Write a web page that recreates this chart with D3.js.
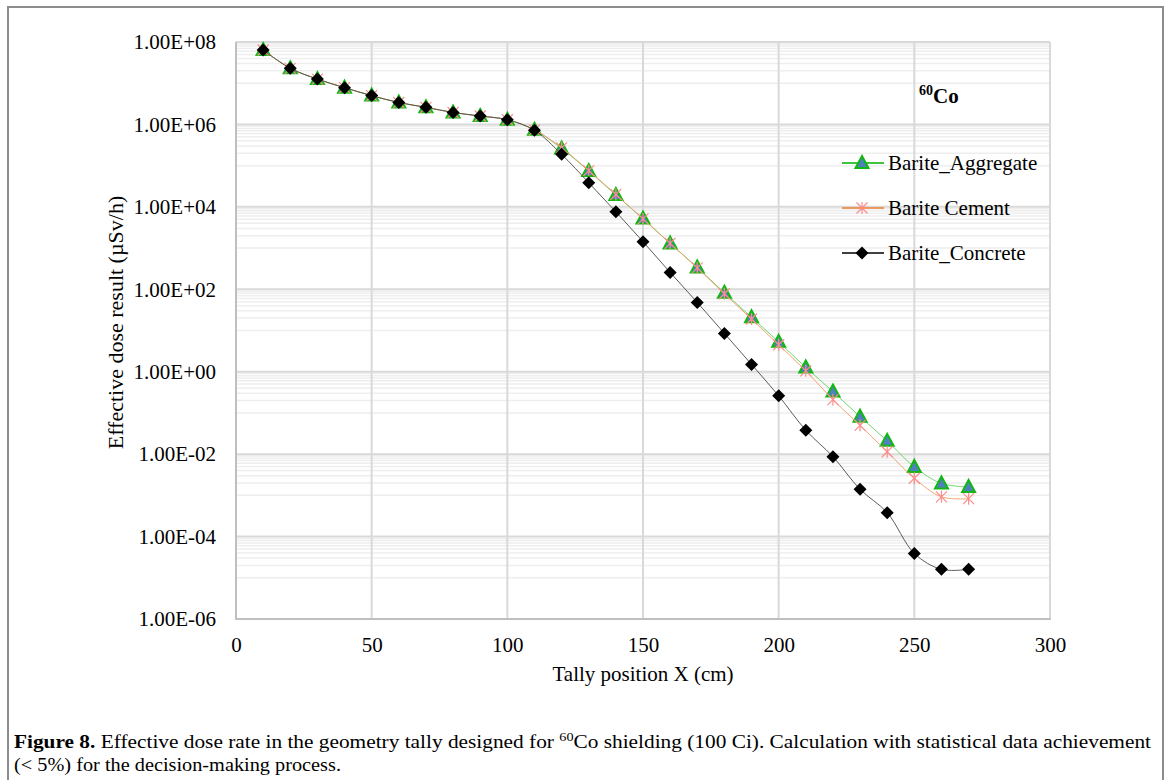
<!DOCTYPE html>
<html>
<head>
<meta charset="utf-8">
<script src="https://cdn.jsdelivr.net/npm/d3@7"></script>
<style>
  body { margin: 0; background: #fff; }
  svg { display: block; font-family: "Liberation Serif", "Times New Roman", serif; }
</style>
</head>
<body>
<div id="chart"></div>
<script>
// tally positions (cm)
const positions = [10, 20, 30, 40, 50, 60, 70, 80, 90, 100, 110, 120, 130, 140, 150, 160, 170, 180, 190, 200, 210, 220, 230, 240, 250, 260, 270];

// effective dose (µSv/h)
const aggregate = [6.4e7, 2.3e7, 1.26e7, 7.8e6, 5.0e6, 3.4e6, 2.6e6, 1.95e6, 1.6e6, 1.3e6, 7.4e5, 2.6e5, 7.4e4, 1.94e4, 5.2e3, 1.3e3, 340, 82, 21, 5.3, 1.27, 0.33, 0.081, 0.021, 4.9e-3, 1.95e-3, 1.6e-3];
const cement = [6.4e7, 2.3e7, 1.26e7, 7.8e6, 5.0e6, 3.4e6, 2.6e6, 1.95e6, 1.6e6, 1.3e6, 7.4e5, 2.7e5, 7.6e4, 2.0e4, 5.1e3, 1.3e3, 330, 78, 19, 4.5, 1.05, 0.21, 0.05, 0.0114, 2.6e-3, 9.2e-4, 8.3e-4];
const concrete = [6.4e7, 2.3e7, 1.26e7, 7.8e6, 5.0e6, 3.4e6, 2.6e6, 1.95e6, 1.6e6, 1.3e6, 7.2e5, 1.88e5, 3.85e4, 7.6e3, 1.43e3, 257, 48, 8.5, 1.5, 0.26, 0.038, 0.0087, 1.4e-3, 3.8e-4, 3.9e-5, 1.6e-5, 1.6e-5];

const seriesNames = ["Barite_Aggregate", "Barite Cement", "Barite_Concrete"];
const xTicks = [0, 50, 100, 150, 200, 250, 300];
const yTicks = [1e-6, 1e-4, 1e-2, 1, 1e2, 1e4, 1e6, 1e8];

// adjust: page size
const width = 1170;
const height = 780;

// adjust: plot area
const area = { left: 236, right: 1050, top: 42, bottom: 619 };

const svg = d3.select("#chart")
  .append("svg")
  .attr("width", width)
  .attr("height", height);

// outer frame
svg.append("rect")
  .attr("x", 8).attr("y", 7)
  .attr("width", 1155).attr("height", 790)
  .attr("fill", "none")
  .attr("stroke", "#8c8c8c")
  .attr("stroke-width", 2);

const x = d3.scaleLinear().domain([0, 300]).range([area.left, area.right]);
const y = d3.scaleLog().domain([1e-6, 1e8]).range([area.bottom, area.top]);

// minor gridlines: 1..9 x 10^odd (Excel log base 100)
const minor = [];
for (let e = -5; e <= 7; e += 2) {
  for (let m = 1; m <= 9; m++) minor.push(m * Math.pow(10, e));
}

const grid = svg.append("g");
grid.selectAll("line.minor")
  .data(minor)
  .join("line")
  .attr("x1", area.left).attr("x2", area.right)
  .attr("y1", d => y(d)).attr("y2", d => y(d))
  .attr("stroke", "#eeeeee")
  .attr("stroke-width", 1.5);

grid.selectAll("line.hmajor")
  .data(yTicks)
  .join("line")
  .attr("x1", area.left).attr("x2", area.right)
  .attr("y1", d => y(d)).attr("y2", d => y(d))
  .attr("stroke", "#d9d9d9")
  .attr("stroke-width", 2);

grid.selectAll("line.vmajor")
  .data(xTicks)
  .join("line")
  .attr("x1", d => x(d)).attr("x2", d => x(d))
  .attr("y1", area.top).attr("y2", area.bottom)
  .attr("stroke", "#d9d9d9")
  .attr("stroke-width", 2);

// axis lines
svg.append("line")
  .attr("x1", area.left).attr("x2", area.left)
  .attr("y1", area.top).attr("y2", area.bottom)
  .attr("stroke", "#bfbfbf").attr("stroke-width", 2);
svg.append("line")
  .attr("x1", area.left - 1).attr("x2", area.right + 1)
  .attr("y1", area.bottom).attr("y2", area.bottom)
  .attr("stroke", "#bfbfbf").attr("stroke-width", 2);

const fmtExp = d => {
  const e = Math.round(Math.log10(d));
  return "1.00E" + (e < 0 ? "-" : "+") + String(Math.abs(e)).padStart(2, "0");
};

const yAxis = svg.append("g")
  .attr("transform", `translate(${area.left}, 0)`)
  .call(d3.axisLeft(y).tickValues(yTicks).tickFormat(fmtExp).tickSize(0).tickPadding(20));

const xAxis = svg.append("g")
  .attr("transform", `translate(0, ${area.bottom})`)
  .call(d3.axisBottom(x).tickValues(xTicks).tickFormat(d3.format("d")).tickSize(0).tickPadding(18));

[yAxis, xAxis].forEach(g => {
  g.select(".domain").remove();
  g.selectAll("text")
    .attr("font-family", "Liberation Serif, Times New Roman, serif")
    .attr("font-size", 21)
    .attr("fill", "#000");
});

// axis titles
svg.append("text")
  .attr("x", (area.left + area.right) / 2)
  .attr("y", 681)
  .attr("text-anchor", "middle")
  .attr("font-size", 21)
  .text("Tally position X (cm)");

svg.append("text")
  .attr("transform", `translate(123, ${(area.top + area.bottom) / 2 - 8}) rotate(-90)`)
  .attr("text-anchor", "middle")
  .attr("font-size", 22)
  .text("Effective dose result (µSv/h)");

// series
const series = [
  { name: seriesNames[0], values: aggregate, line: "#5fd35f", marker: "triangle" },
  { name: seriesNames[1], values: cement, line: "#f29a63", marker: "star" },
  { name: seriesNames[2], values: concrete, line: "#4a4a4a", marker: "diamond" },
];

const markerPath = {
  triangle: "M0,-7L6.5,5L-6.5,5Z",
  star: "M0,-6L0,6M-5.5,-5.5L5.5,5.5M-5.5,5.5L5.5,-5.5",
  diamond: "M0,-6.5L6.5,0L0,6.5L-6.5,0Z",
};

function drawMarker(g, kind) {
  const p = g.append("path").attr("d", markerPath[kind]);
  if (kind === "triangle") {
    p.attr("fill", "#4f81bd").attr("stroke", "#12b812").attr("stroke-width", 2).attr("stroke-linejoin", "miter");
  } else if (kind === "star") {
    p.attr("fill", "none").attr("stroke", "#ff8c8c").attr("stroke-width", 1.2);
  } else {
    p.attr("fill", "#000");
  }
}

const line = d3.line()
  .x((d, i) => x(positions[i]))
  .y(d => y(d))
  .curve(d3.curveCatmullRom.alpha(0.5));

series.forEach(s => {
  const g = svg.append("g");
  g.append("path")
    .attr("d", line(s.values))
    .attr("fill", "none")
    .attr("stroke", s.line)
    .attr("stroke-width", 0.9);

  g.selectAll("g.pt")
    .data(s.values)
    .join("g")
    .attr("transform", (d, i) => `translate(${x(positions[i])}, ${y(d)})`)
    .each(function () { drawMarker(d3.select(this), s.marker); });
});

// legend
const legendColors = ["#00b000", "#ed7d31", "#000"];
const legend = svg.append("g");
series.forEach((s, i) => {
  const ly = 163 + i * 45;
  legend.append("line")
    .attr("x1", 842).attr("x2", 884)
    .attr("y1", ly).attr("y2", ly)
    .attr("stroke", legendColors[i])
    .attr("stroke-width", 1.5);
  const m = legend.append("g").attr("transform", `translate(862, ${ly})`);
  drawMarker(m, s.marker);
  legend.append("text")
    .attr("x", 888)
    .attr("y", ly + 7)
    .attr("font-size", 21)
    .text(s.name);
});

// isotope label
const iso = svg.append("text")
  .attr("x", 919)
  .attr("y", 103)
  .attr("font-weight", "bold");
iso.append("tspan").attr("font-size", 14).attr("dy", -8).text("60");
iso.append("tspan").attr("font-size", 21).attr("dy", 8).text("Co");

// caption
const cap1 = svg.append("text")
  .attr("x", 14)
  .attr("y", 748)
  .attr("font-size", 18)
  .attr("textLength", 1137)
  .attr("lengthAdjust", "spacingAndGlyphs");
cap1.append("tspan").attr("font-weight", "bold").text("Figure 8.");
cap1.append("tspan").text(" Effective dose rate in the geometry tally designed for ");
cap1.append("tspan").attr("font-size", 12).attr("dy", -7).text("60");
cap1.append("tspan").attr("dy", 7).text("Co shielding (100 Ci). Calculation with statistical data achievement");

svg.append("text")
  .attr("x", 14)
  .attr("y", 771)
  .attr("font-size", 18)
  .attr("textLength", 327)
  .attr("lengthAdjust", "spacingAndGlyphs")
  .text("(< 5%) for the decision-making process.");
</script>
</body>
</html>
